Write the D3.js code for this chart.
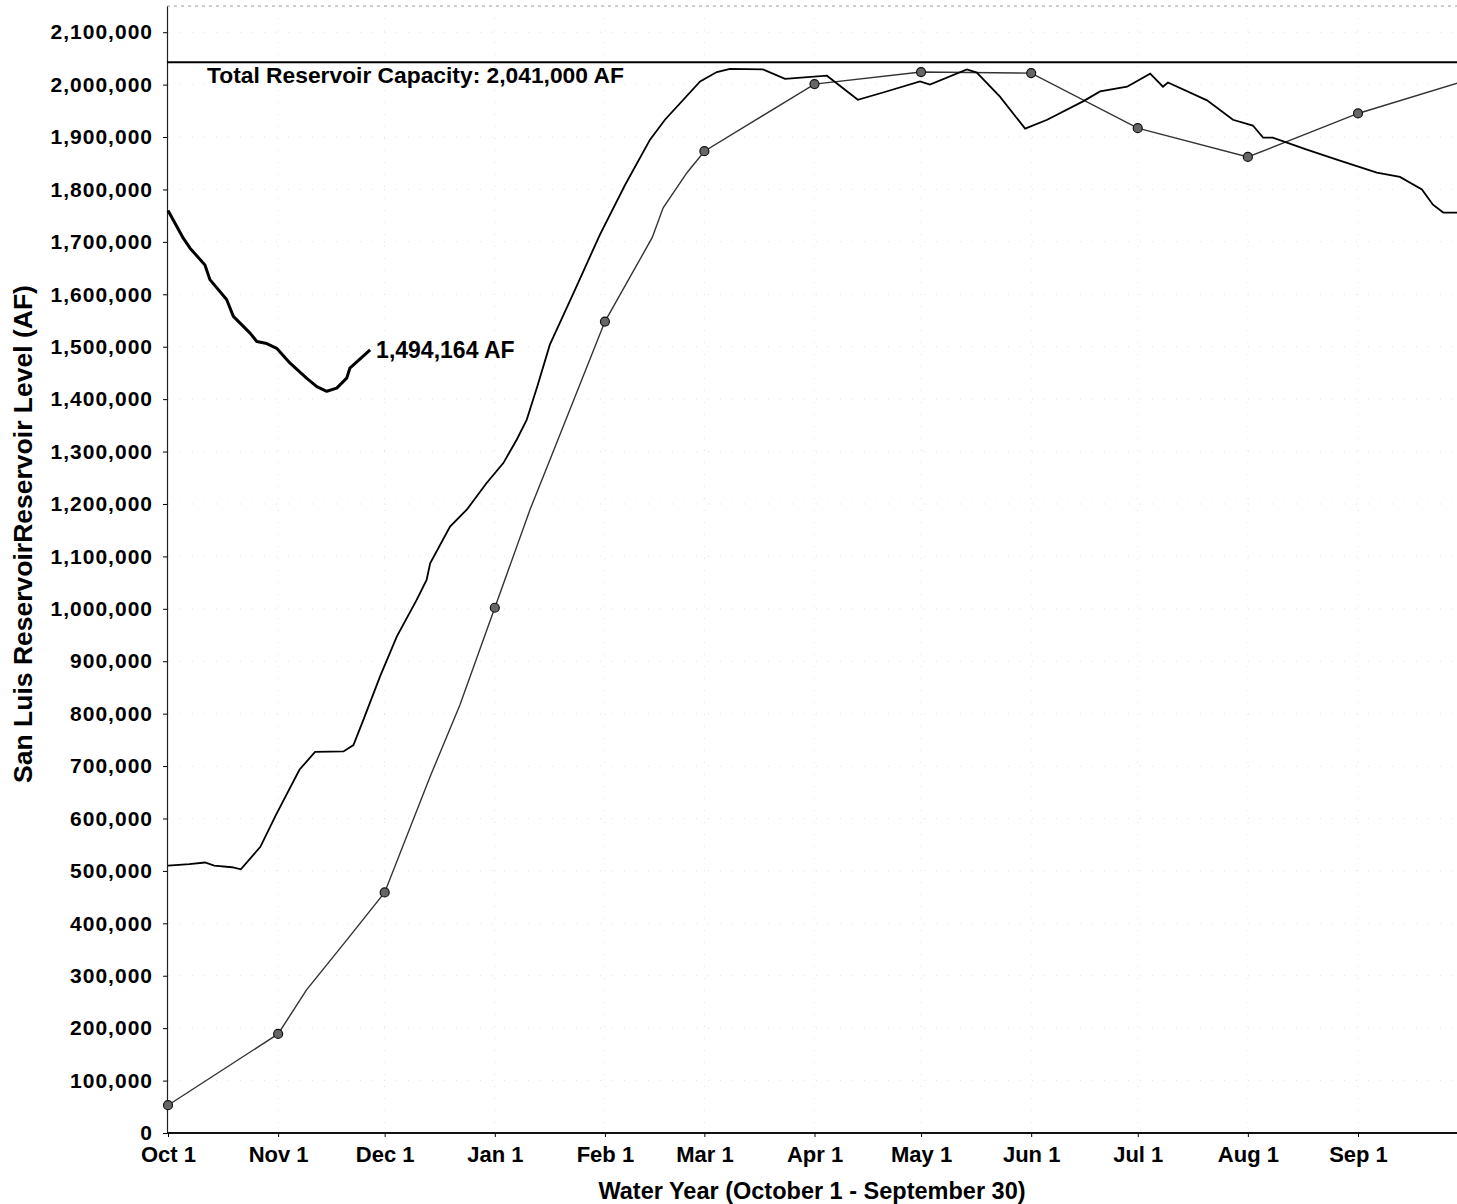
<!DOCTYPE html>
<html>
<head>
<meta charset="utf-8">
<script src="https://cdn.jsdelivr.net/npm/d3@7"></script>
<style>
  body { margin: 0; background: #fff; }
  svg { display: block; }
  text { font-family: "Liberation Sans", Arial, sans-serif; font-weight: bold; fill: #000; }
</style>
</head>
<body>
<div id="chart"></div>
<script>
// days counted from Oct 1 of the water year
const currentDays = [0, 4.3, 6.2, 10.4, 11.8, 16.5, 18.4, 23.1, 25, 27.8, 30.6, 34.3, 39, 41.9, 44.7, 47.5, 50.3, 51.2, 56.9];
const currentAF = [1760000, 1707000, 1688000, 1656000, 1628000, 1590000, 1558000, 1526000, 1510000, 1506000, 1497000, 1469000, 1440000, 1424000, 1415000, 1421000, 1440000, 1459000, 1494164];

const priorDays = [0, 6, 10.4, 13, 18, 20.5, 26, 30.4, 37, 41.4, 49.4, 52.2, 55, 59.7, 64.4, 70, 72.8, 73.8, 79.4, 84.1, 89.7, 94.4, 98.2, 101, 104, 107.5, 114.6, 121.6, 128.7, 135.7, 139.9, 149.8, 154.5, 158.2, 167.5, 173.7, 185.5, 194.2, 201.3, 211.7, 214.5, 224.9, 227.7, 234.2, 241.3, 247.5, 257.6, 262.4, 270, 276.5, 280.1, 281.5, 292.5, 299.8, 305.4, 308.3, 311, 320.6, 329.9, 340.3, 346.8, 353, 356.1, 359, 364];
const priorAF = [510000, 513000, 516000, 510000, 507000, 503000, 546000, 607000, 693000, 727000, 728000, 740000, 788000, 871000, 947000, 1017000, 1055000, 1087000, 1157000, 1189000, 1240000, 1278000, 1323000, 1361000, 1425000, 1504000, 1609000, 1714000, 1809000, 1895000, 1933000, 2006000, 2024000, 2030000, 2029000, 2011000, 2017000, 1971000, 1985000, 2006000, 2000000, 2029000, 2023000, 1977000, 1916000, 1933000, 1968000, 1987000, 1996000, 2021000, 1996000, 2004000, 1970000, 1933000, 1922000, 1899000, 1899000, 1876000, 1855000, 1832000, 1824000, 1800000, 1771000, 1756000, 1756000];

const planDays = [0, 31, 39, 50.3, 61, 73.8, 82.2, 92, 101.9, 107.5, 123, 136.3, 139.4, 146.1, 151, 182, 212, 243, 273, 304, 335, 364];
const planAF = [53000, 189000, 273000, 368000, 459000, 680000, 817000, 1002000, 1189000, 1284000, 1548000, 1708000, 1765000, 1832000, 1873000, 2001000, 2024000, 2022000, 1917000, 1862000, 1945000, 2005000];
// monthly marker points on the plan line
const markerDays = [0, 31, 61, 92, 123, 151, 182, 212, 243, 273, 304, 335];
const markerAF = [53000, 189000, 459000, 1002000, 1548000, 1873000, 2001000, 2024000, 2022000, 1917000, 1862000, 1945000];

const capacityAF = 2041000;
const capacityLabel = "Total Reservoir Capacity: 2,041,000 AF";
const endLabel = "1,494,164 AF";

const monthTicks = ["2010-10-01", "2010-11-01", "2010-12-01", "2011-01-01", "2011-02-01", "2011-03-01",
  "2011-04-01", "2011-05-01", "2011-06-01", "2011-07-01", "2011-08-01", "2011-09-01"];
const yTicks = [0, 100000, 200000, 300000, 400000, 500000, 600000, 700000, 800000, 900000, 1000000,
  1100000, 1200000, 1300000, 1400000, 1500000, 1600000, 1700000, 1800000, 1900000, 2000000, 2100000];

const width = 1457;
const height = 1204;
const margin = { top: 6, right: 0, bottom: 71, left: 168 };

const start = Date.UTC(2010, 9, 1);
const toDate = d => new Date(start + d * 864e5);

const svg = d3.select('#chart')
  .append('svg')
  .attr('width', width)
  .attr('height', height);

svg.append('rect').attr('width', width).attr('height', height).attr('fill', '#fff');

const x = d3.scaleUtc()
  .domain([toDate(0), toDate(364)])
  .range([margin.left, margin.left + 364 * 3.5522]);

const y = d3.scaleLinear()
  .domain([0, 2150000])
  .range([height - margin.bottom, margin.top]);

const tickDates = monthTicks.map(s => new Date(s + 'T00:00:00Z'));

// faint dotted grid
const grid = svg.append('g').attr('stroke', '#e2e2e2').attr('stroke-dasharray', '1,11');
grid.selectAll('line.v')
  .data(tickDates.slice(1))
  .join('line')
  .attr('x1', d => x(d)).attr('x2', d => x(d))
  .attr('y1', y(2150000)).attr('y2', y(0));
grid.selectAll('line.h')
  .data(yTicks.slice(1))
  .join('line')
  .attr('x1', x(toDate(0))).attr('x2', width)
  .attr('y1', d => y(d)).attr('y2', d => y(d));

// top border (dotted)
svg.append('line')
  .attr('x1', x(toDate(0)) - 1).attr('x2', width)
  .attr('y1', y(2150000)).attr('y2', y(2150000))
  .attr('stroke', '#999').attr('stroke-dasharray', '3,4');

// axes
const yAxis = svg.append('g')
  .attr('transform', `translate(${x(toDate(0)) - 1},0)`)
  .call(d3.axisLeft(y).tickValues(yTicks).tickSize(4).tickPadding(10).tickFormat(d3.format(',')).tickSizeOuter(0));
yAxis.select('.domain').attr('stroke', '#222').attr('stroke-width', 1.2);
yAxis.selectAll('text').attr('font-size', 21).attr('letter-spacing', 1);

const xAxis = svg.append('g')
  .attr('transform', `translate(0,${y(0)})`)
  .call(d3.axisBottom(x).tickValues(tickDates).tickSize(4).tickPadding(9).tickFormat(d3.utcFormat('%b %-d')).tickSizeOuter(0));
xAxis.select('.domain').attr('stroke', '#111').attr('stroke-width', 2).attr('d', `M${x(toDate(0)) - 1},0H${width}`);
xAxis.selectAll('text').attr('font-size', 22);

svg.append('text')
  .attr('x', 812).attr('y', 1199)
  .attr('text-anchor', 'middle')
  .attr('font-size', 23.5)
  .text('Water Year (October 1 - September 30)');

svg.append('text')
  .attr('transform', 'translate(32,534) rotate(-90)')
  .attr('text-anchor', 'middle')
  .attr('font-size', 26.5)
  .text('San Luis ReservoirReservoir Level (AF)');

// capacity line
svg.append('line')
  .attr('x1', x(toDate(0)) - 1).attr('x2', width)
  .attr('y1', y(capacityAF) - 1).attr('y2', y(capacityAF) - 1)
  .attr('stroke', '#000').attr('stroke-width', 2);
svg.append('text')
  .attr('x', 207).attr('y', 83)
  .attr('font-size', 22.8)
  .text(capacityLabel);

const line = d3.line()
  .x(d => x(toDate(d[0])))
  .y(d => y(d[1]));

svg.append('path')
  .datum(d3.zip(planDays, planAF))
  .attr('fill', 'none')
  .attr('stroke', '#333')
  .attr('stroke-width', 1.4)
  .attr('d', line);

svg.append('g')
  .selectAll('circle')
  .data(d3.zip(markerDays, markerAF))
  .join('circle')
  .attr('cx', d => x(toDate(d[0])))
  .attr('cy', d => y(d[1]))
  .attr('r', 4.5)
  .attr('fill', '#666')
  .attr('stroke', '#111')
  .attr('stroke-width', 1.2);

svg.append('path')
  .datum(d3.zip(priorDays, priorAF))
  .attr('fill', 'none')
  .attr('stroke', '#000')
  .attr('stroke-width', 1.8)
  .attr('d', line);

svg.append('path')
  .datum(d3.zip(currentDays, currentAF))
  .attr('fill', 'none')
  .attr('stroke', '#000')
  .attr('stroke-width', 3)
  .attr('stroke-linejoin', 'round')
  .attr('d', line);

const last = currentDays.length - 1;
svg.append('text')
  .attr('x', x(toDate(currentDays[last])) + 6)
  .attr('y', y(currentAF[last]) + 8)
  .attr('font-size', 23)
  .text(endLabel);
</script>
</body>
</html>
